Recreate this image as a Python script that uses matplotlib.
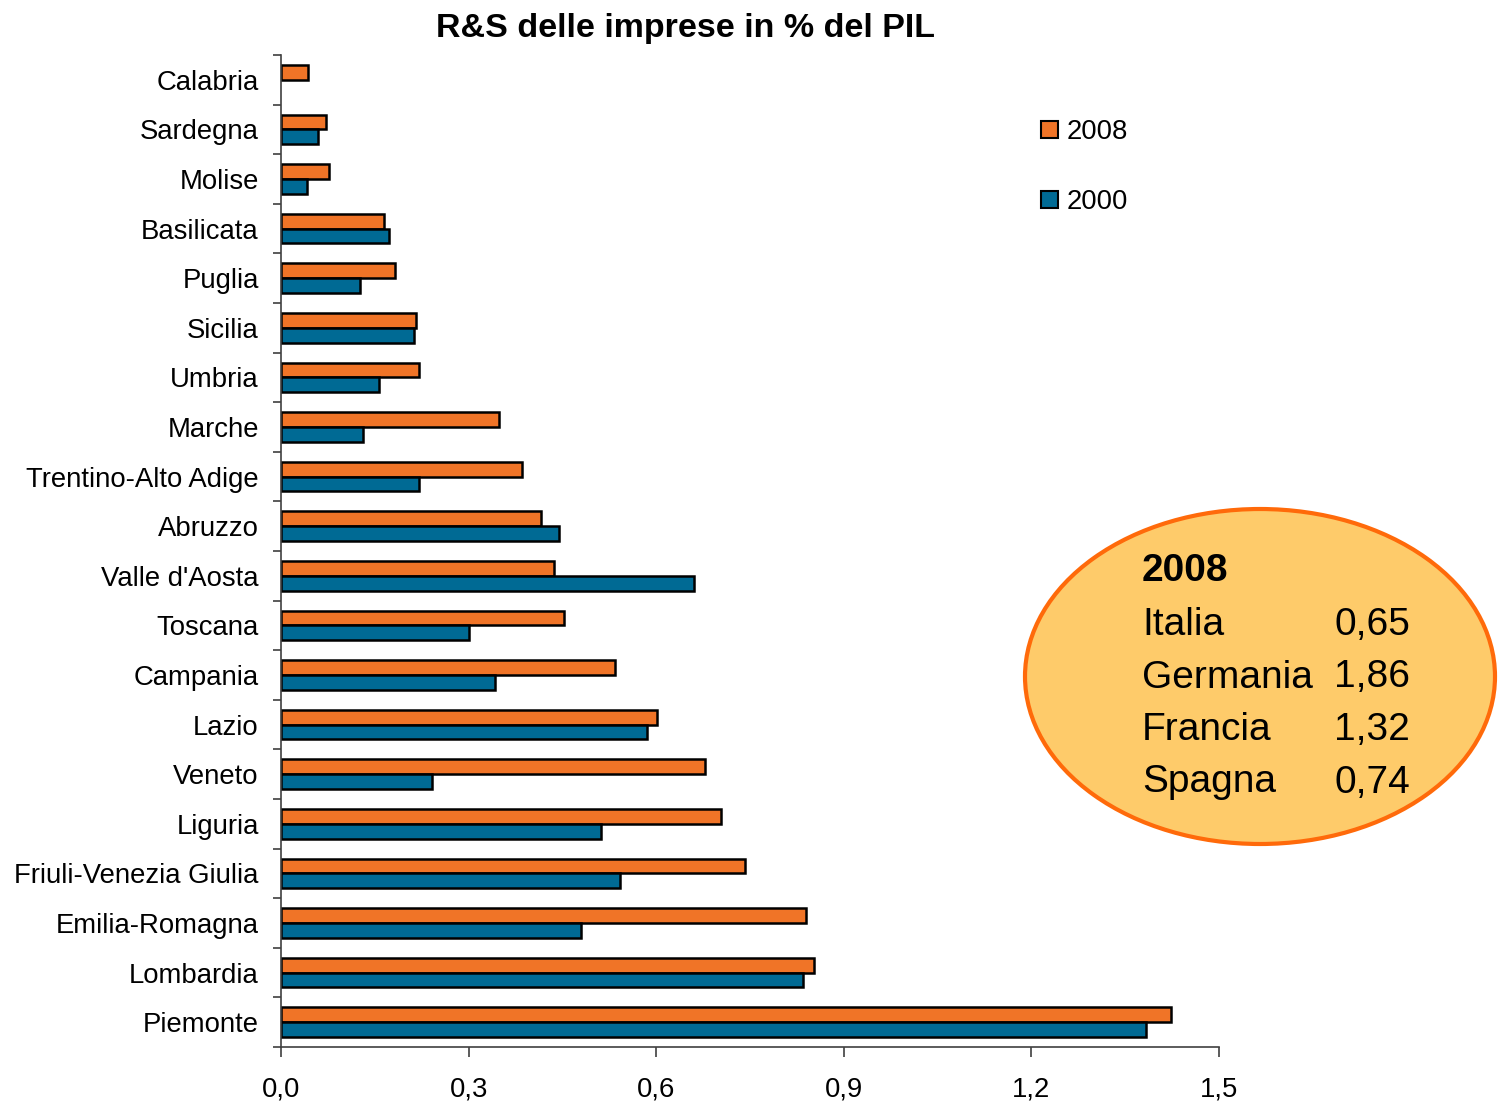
import matplotlib
matplotlib.use('Agg')
import matplotlib.pyplot as plt
import numpy as np
from matplotlib.patches import Ellipse, Patch
from matplotlib.ticker import FixedLocator, NullFormatter

plt.rcParams['font.family'] = ['Liberation Sans', 'DejaVu Sans']

regioni = ['Calabria', 'Sardegna', 'Molise', 'Basilicata', 'Puglia', 'Sicilia',
           'Umbria', 'Marche', 'Trentino-Alto Adige', 'Abruzzo', "Valle d'Aosta",
           'Toscana', 'Campania', 'Lazio', 'Veneto', 'Liguria',
           'Friuli-Venezia Giulia', 'Emilia-Romagna', 'Lombardia', 'Piemonte']
rs_2008 = [0.043, 0.072, 0.076, 0.165, 0.182, 0.216, 0.220, 0.348, 0.385, 0.415,
           0.436, 0.453, 0.534, 0.601, 0.678, 0.704, 0.742, 0.840, 0.852, 1.424]
rs_2000 = [0.0, 0.059, 0.042, 0.173, 0.126, 0.212, 0.157, 0.131, 0.220, 0.445,
           0.661, 0.301, 0.343, 0.585, 0.241, 0.512, 0.542, 0.479, 0.835, 1.383]
x_ticks = [0.0, 0.3, 0.6, 0.9, 1.2, 1.5]

paesi = ['Italia', 'Germania', 'Francia', 'Spagna']
valori_2008 = ['0,65', '1,86', '1,32', '0,74']

col_2008 = '#F07427'
col_2000 = '#006A94'

W, H = 1499, 1104
fig = plt.figure(figsize=(W / 100, H / 100), dpi=100)
ax = fig.add_axes([281 / W, 1 - 1047 / H, (1219 - 281) / W, (1047 - 55) / H])

y = np.arange(len(regioni))
h = 0.3
# no outline for empty bars (Calabria 2000)
lw_2008 = [1.8 if v > 0 else 0 for v in rs_2008]
lw_2000 = [1.8 if v > 0 else 0 for v in rs_2000]
ax.barh(y - h / 2, rs_2008, height=h, color=col_2008, edgecolor='black', linewidth=lw_2008)
ax.barh(y + h / 2, rs_2000, height=h, color=col_2000, edgecolor='black', linewidth=lw_2000)

ax.set_ylim(len(regioni) - 0.5, -0.5)
ax.set_xlim(0, 1.5)
ax.set_yticks(y)
ax.set_yticklabels(regioni, fontsize=19.8)
ax.yaxis.set_minor_locator(FixedLocator(np.arange(len(regioni) + 1) - 0.5))
ax.yaxis.set_minor_formatter(NullFormatter())
ax.tick_params(axis='y', which='major', length=0, pad=16)
ax.tick_params(axis='y', which='minor', length=6, width=1.2, color='#404040')

ax.set_xticks(x_ticks)
ax.set_xticklabels([('%.1f' % v).replace('.', ',') for v in x_ticks], fontsize=19.8)
ax.tick_params(axis='x', length=7, width=1.2, color='#404040', pad=14)

for s in ['top', 'right']:
    ax.spines[s].set_visible(False)
for s in ['left', 'bottom']:
    ax.spines[s].set_color('#404040')
    ax.spines[s].set_linewidth(1.2)

fig.text(686 / W, 1 - 28 / H, 'R&S delle imprese in % del PIL', fontsize=24.5,
         fontweight='bold', ha='center', va='center')

handles = [Patch(facecolor=col_2008, edgecolor='black', linewidth=1.5, label='2008'),
           Patch(facecolor=col_2000, edgecolor='black', linewidth=1.5, label='2000')]
fig.legend(handles=handles, loc='upper left', bbox_to_anchor=(1030 / W, 1 - 108 / H),
           frameon=False, fontsize=19.8, handlelength=0.6, handleheight=0.6,
           handletextpad=0.35, labelspacing=1.6, borderaxespad=0)

ell = Ellipse((1260 / W, 1 - 676.5 / H), 470 / W, 335 / H, transform=fig.transFigure,
              facecolor='#FECB6A', edgecolor='#FF6A0A', linewidth=3)
fig.patches.append(ell)

fig.text(1142 / W, 1 - 571 / H, '2008', fontsize=28, fontweight='bold',
         ha='left', va='center')
for i, (p, v) in enumerate(zip(paesi, valori_2008)):
    yy = 1 - (625 + i * 52.5) / H
    fig.text(1142 / W, yy, p, fontsize=28, ha='left', va='center')
    fig.text(1410 / W, yy, v, fontsize=28, ha='right', va='center')

fig.savefig('out.png', dpi=100)
